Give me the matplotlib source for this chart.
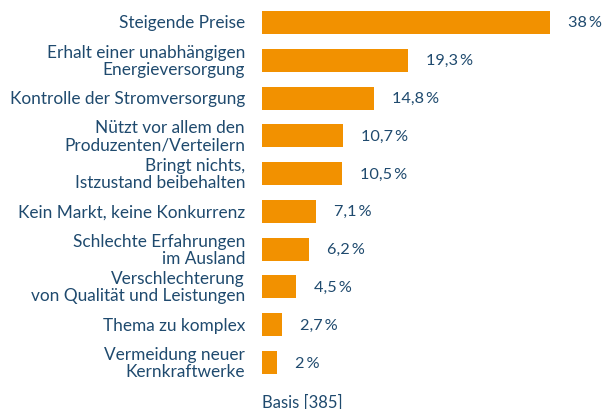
import matplotlib
matplotlib.use('Agg')
import matplotlib.pyplot as plt

# Daten
labels = [
    'Steigende Preise',
    'Erhalt einer unabhängigen\nEnergieversorgung',
    'Kontrolle der Stromversorgung',
    'Nützt vor allem den\nProduzenten/Verteilern',
    'Bringt nichts,\nIstzustand beibehalten',
    'Kein Markt, keine Konkurrenz',
    'Schlechte Erfahrungen\nim Ausland',
    'Verschlechterung\nvon Qualität und Leistungen',
    'Thema zu komplex',
    'Vermeidung neuer\nKernkraftwerke',
]
values = [38, 19.3, 14.8, 10.7, 10.5, 7.1, 6.2, 4.5, 2.7, 2]
value_labels = ['38\u2009%', '19,3\u2009%', '14,8\u2009%', '10,7\u2009%', '10,5\u2009%',
                '7,1\u2009%', '6,2\u2009%', '4,5\u2009%', '2,7\u2009%', '2\u2009%']
basis = 'Basis [385]'

ORANGE = '#f29100'
BLUE = '#1f4a6e'

plt.rcParams['font.family'] = ['Lato', 'DejaVu Sans']

fig = plt.figure(figsize=(6.03, 4.10), dpi=100)
ax = fig.add_axes([262 / 603, 1 - 382.4 / 410, 288 / 603, 377.8 / 410])

y = list(range(len(values)))
ax.barh(y, values, height=0.61, color=ORANGE)
ax.set_xlim(0, 38)
ax.set_ylim(len(values) - 0.5, -0.5)

for yi, lab, v, vl in zip(y, labels, values, value_labels):
    ax.text(-17 / 7.58, yi, lab, ha='right', va='center', color=BLUE,
            fontsize=12.4, linespacing=1.08, clip_on=False)
    ax.text(v + 18 / 7.58, yi, vl, ha='left', va='center', color=BLUE,
            fontsize=11.7, clip_on=False)

fig.text(262 / 603, 1 - 403 / 410, basis, ha='left', va='center', color=BLUE,
         fontsize=12)

ax.axis('off')
fig.savefig('out.png', dpi=100)
